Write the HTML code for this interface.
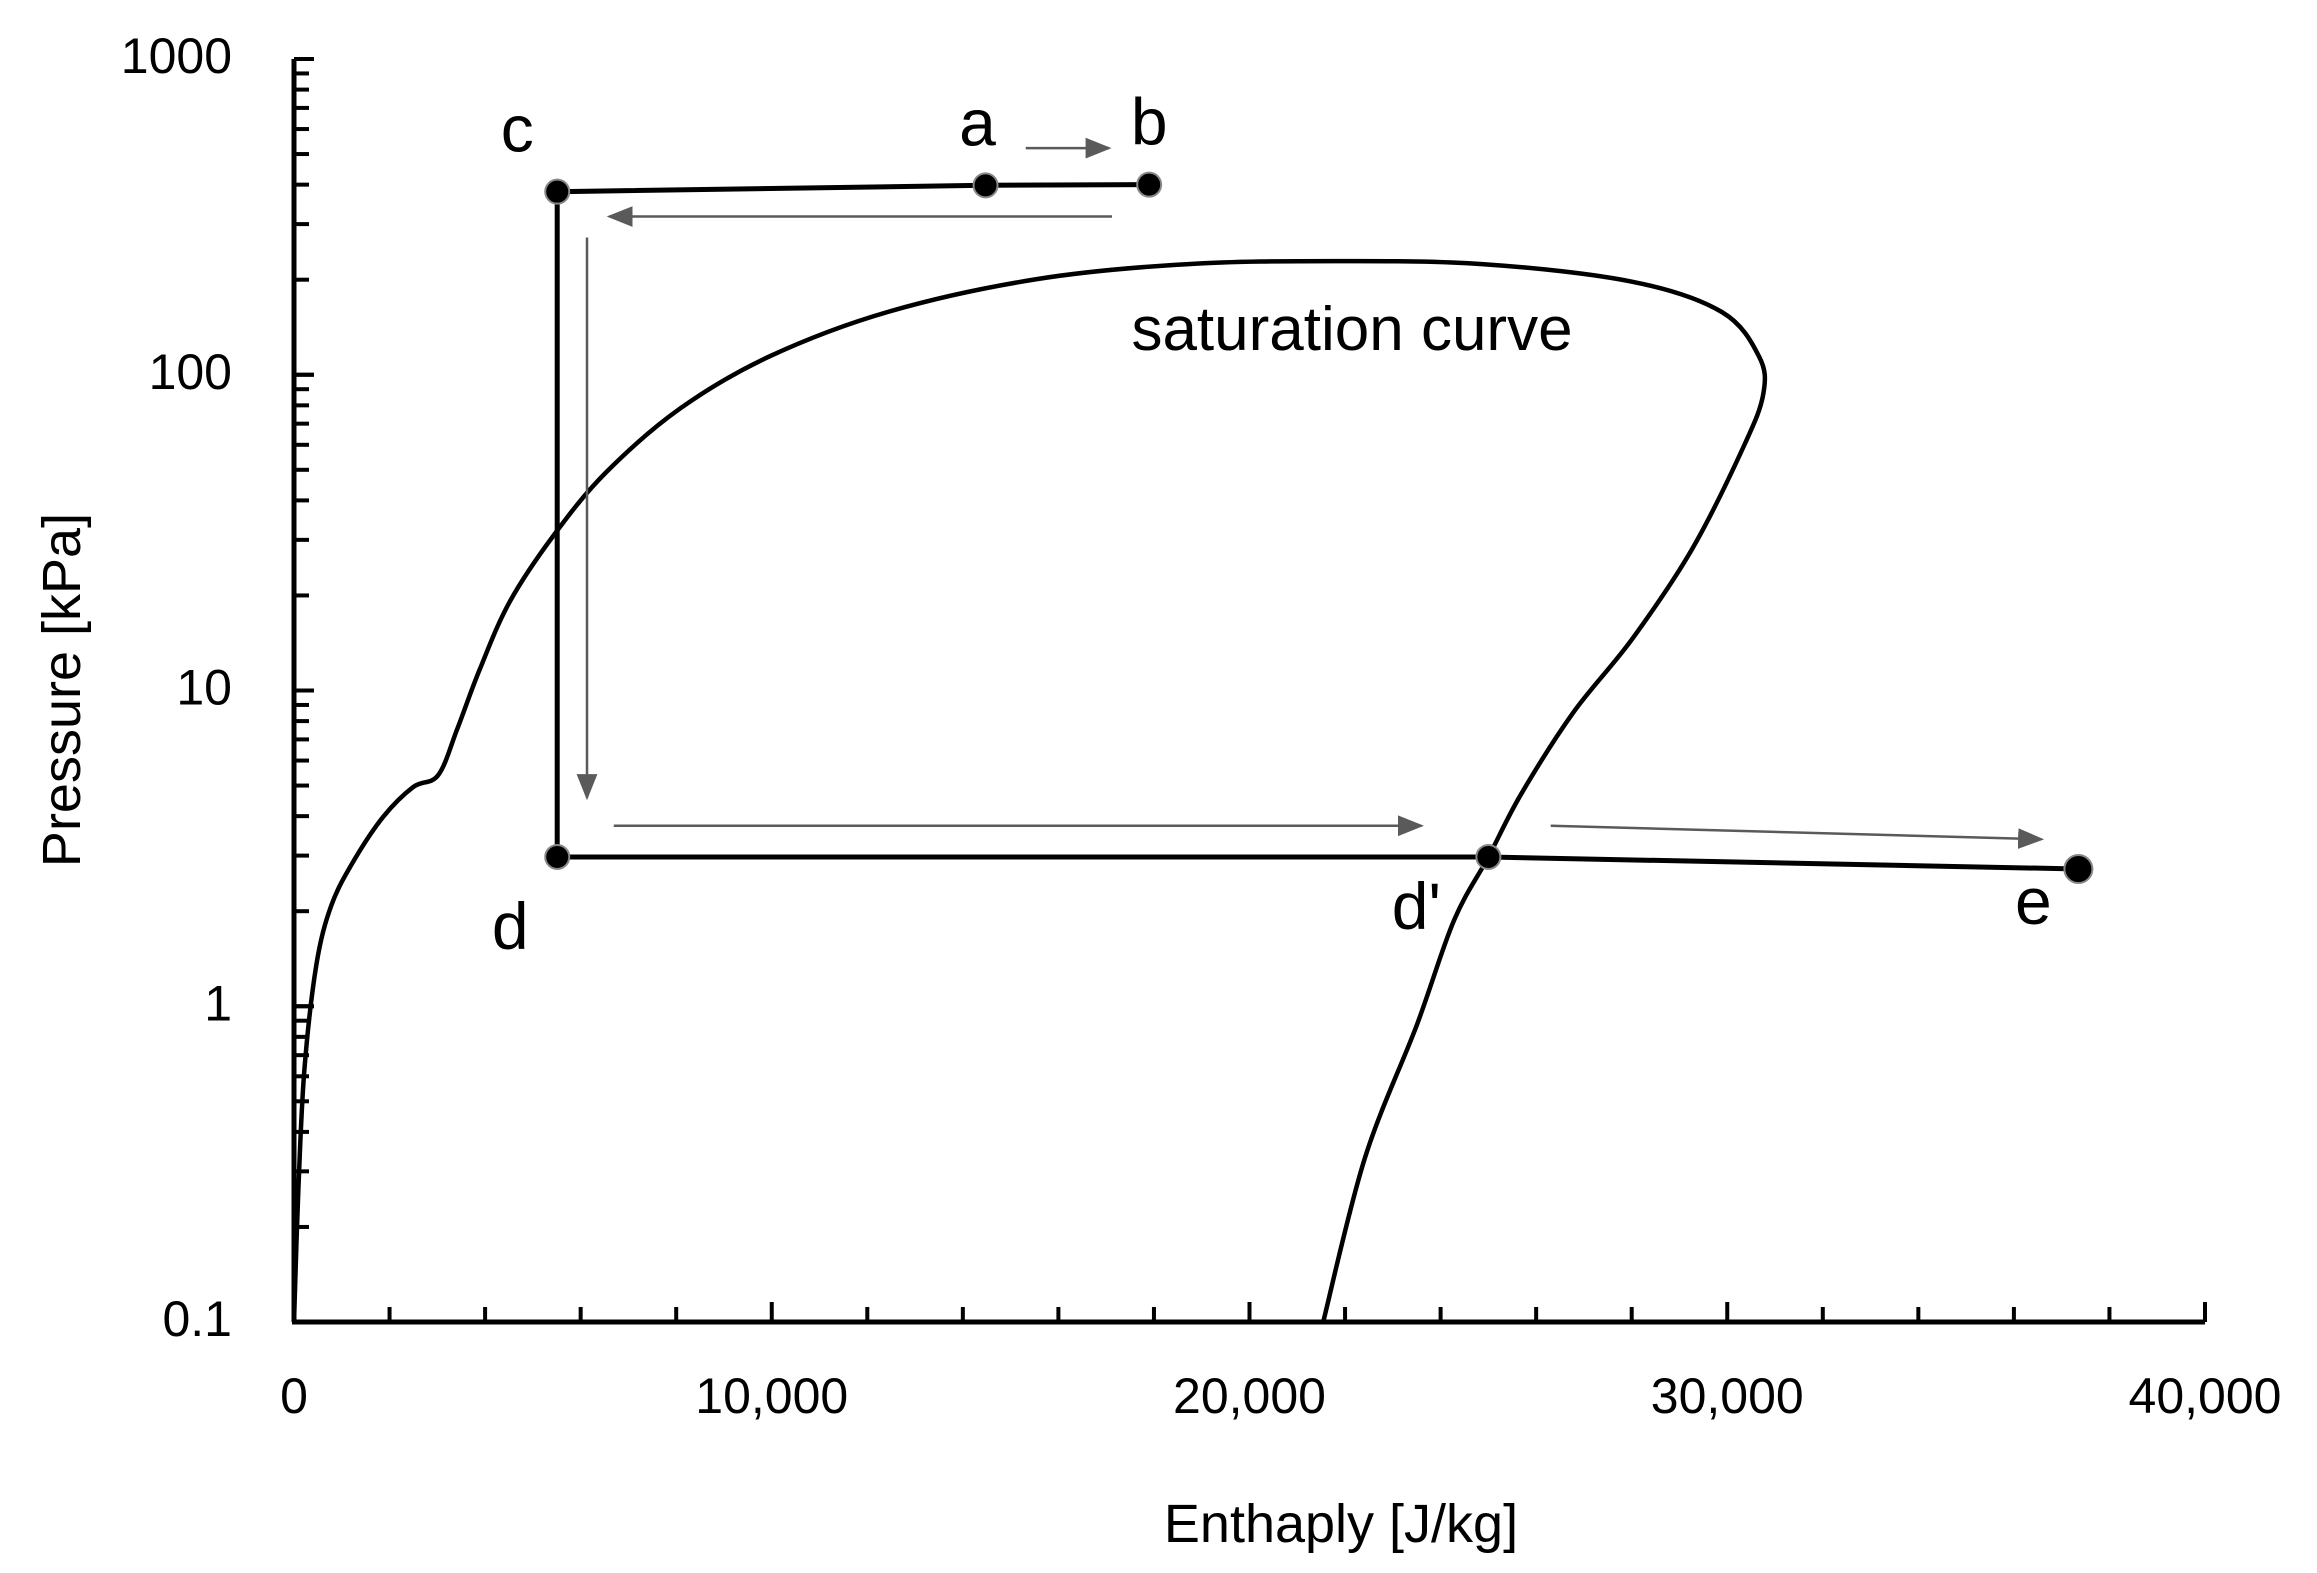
<!DOCTYPE html>
<html><head><meta charset="utf-8"><style>
html,body{margin:0;padding:0;background:#fff;}
svg{display:block;font-family:"Liberation Sans",sans-serif;}
</style></head><body>
<svg id="chart" width="2317" height="1573" viewBox="0 0 2317 1573" xmlns="http://www.w3.org/2000/svg">
<g id="axes"></g>
<g id="marks"></g>
<text x="1341" y="1542" font-size="54" text-anchor="middle">Enthaply [J/kg]</text>
<text x="0" y="0" font-size="54" text-anchor="middle" transform="translate(80,690) rotate(-90)">Pressure [kPa]</text>
</svg>
<script>
const xTicks=[0,10000,20000,30000,40000];
const xTickLabels=["0","10,000","20,000","30,000","40,000"];
const yTicks=[0.1,1,10,100,1000];
const yTickLabels=["0.1","1","10","100","1000"];
const satH=[0,93,218,467,778,1245,1868,2490,3020,3424,3891,4514,5448,6538,8094,9962,12452,15565,18678,21791,24904,28017,29885,30663,30757,30352,29263,28017,26772,25683,25000,24281,23503,22414,21542];
const satP=[0.1,0.265,0.63,1.35,2.08,2.88,3.98,4.94,5.4,7.6,11.7,19.1,31.2,49.2,78.4,114.5,158.5,201,224,229,224,197,158,114.5,87.3,59.7,28,14.6,8.49,4.69,2.97,1.87,0.873,0.33,0.1];
const cycleNames=["b","a","c","d","d'","e"];
const cycleH=[17900,14475,5510,5510,25000,37350];
const cycleP=[400,398,380,2.97,2.97,2.72];
const arrowH0=[15316,17122,6133,6693,26305];
const arrowP0=[522,317,272,3.73,3.73];
const arrowH1=[17059,6600,6133,23597,36577];
const arrowP1=[522,317,4.58,3.73,3.38];

const X0=294,X1=2205,YB=1322,YT=59;
const sx=h=>X0+(h/40000)*(X1-X0);
const sy=p=>YB-(Math.log10(p)+1)/4*(YB-YT);
const NS="http://www.w3.org/2000/svg";
function mk(t,a,parent){const e=document.createElementNS(NS,t);for(const k in a)e.setAttribute(k,a[k]);parent.appendChild(e);return e;}
const axes=document.getElementById('axes'),marks=document.getElementById('marks');
const defs=mk('defs',{},document.getElementById('chart'));
const m=mk('marker',{id:'ah',refX:'9',refY:'4',orient:'auto',markerUnits:'userSpaceOnUse'},defs);
m.setAttribute('viewBox','0 0 10 8');m.setAttribute('markerWidth','26');m.setAttribute('markerHeight','22');
mk('path',{d:'M0,0 L10,4 L0,8 z',fill:'#5a5a5a'},m);

let ax=mk('line',{x1:X0,y1:YT,x2:X0,y2:YB,stroke:'#000','stroke-width':5},axes);

ax=mk('line',{x1:X0-2,y1:YB,x2:X1,y2:YB,stroke:'#000','stroke-width':5},axes);

for(let h=2000;h<=40000;h+=2000){const t=mk('line',{x1:sx(h),y1:YB,x2:sx(h),y2:YB-(h%10000===0?20:15),stroke:'#000','stroke-width':4},axes);
}
xTicks.forEach((v,i)=>{const t=mk('text',{x:sx(v),y:1413,'font-size':50,'text-anchor':'middle'},axes);t.textContent=xTickLabels[i];
});
for(let d=-1;d<3;d++){for(let k=1;k<=10;k++){const p=k*Math.pow(10,d);const y=sy(p);
const t=mk('line',{x1:X0,y1:y,x2:X0+(k===1||k===10?20:15),y2:y,stroke:'#000','stroke-width':4},axes);
}}
yTicks.forEach((v,i)=>{const t=mk('text',{x:232,y:sy(v)+14,'font-size':50,'text-anchor':'end'},axes);t.textContent=yTickLabels[i];
});

// saturation curve (smoothed Catmull-Rom through data points)
const pts=satH.map((h,i)=>[sx(h),sy(satP[i])]);
let d='M'+pts[0][0].toFixed(1)+','+pts[0][1].toFixed(1);
for(let i=0;i<pts.length-1;i++){const p0=pts[Math.max(0,i-1)],p1=pts[i],p2=pts[i+1],p3=pts[Math.min(pts.length-1,i+2)];
const c1=[p1[0]+(p2[0]-p0[0])/6,p1[1]+(p2[1]-p0[1])/6],c2=[p2[0]-(p3[0]-p1[0])/6,p2[1]-(p3[1]-p1[1])/6];
d+='C'+c1.map(v=>v.toFixed(1)).join(',')+' '+c2.map(v=>v.toFixed(1)).join(',')+' '+p2.map(v=>v.toFixed(1)).join(',');}
const sat=mk('path',{d:d,fill:'none',stroke:'#000','stroke-width':4.5,'stroke-linejoin':'round'},marks);

const st=mk('text',{x:1352,y:350,'font-size':62,'text-anchor':'middle'},marks);st.textContent='saturation curve';


d='';cycleH.forEach((h,i)=>{d+=(i?'L':'M')+sx(h).toFixed(1)+','+sy(cycleP[i]).toFixed(1);});
const cp=mk('path',{d:d,fill:'none',stroke:'#000','stroke-width':5},marks);


arrowH0.forEach((h,i)=>{const a=mk('line',{x1:sx(h),y1:sy(arrowP0[i]),x2:sx(arrowH1[i]),y2:sy(arrowP1[i]),stroke:'#5a5a5a','stroke-width':2.5,'marker-end':'url(#ah)'},marks);
});

const labOff={"b":[0,-40],"a":[-8,-40],"c":[-40,-40],"d":[-47,92],"d'":[-72,72],"e":[-45,55]};
cycleH.forEach((h,i)=>{const n=cycleNames[i];const r=n==='e'?14:12;
const c=mk('circle',{cx:sx(h),cy:sy(cycleP[i]),r:r,fill:'#000',stroke:'#888','stroke-width':2},marks);

const t=mk('text',{x:sx(h)+labOff[n][0],y:sy(cycleP[i])+labOff[n][1],'font-size':66,'text-anchor':'middle'},marks);t.textContent=n;
});
</script>
</body></html>
